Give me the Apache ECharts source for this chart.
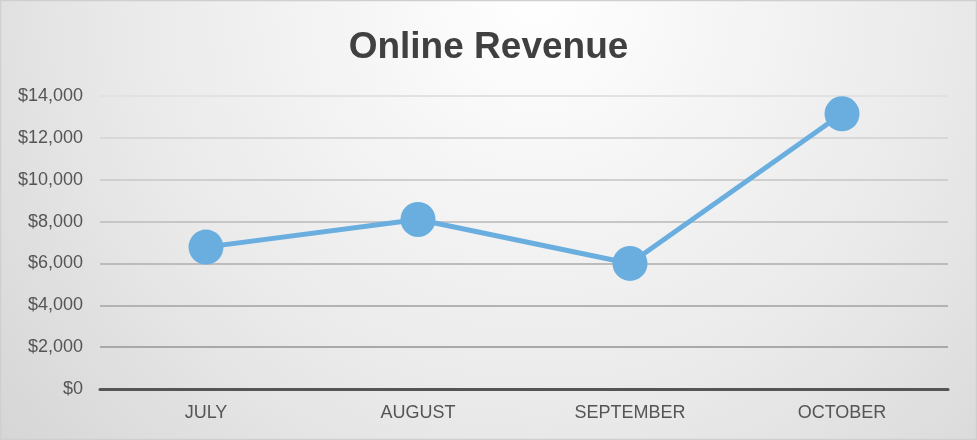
<!DOCTYPE html>
<html>
<head>
<meta charset="utf-8">
<script src="https://cdn.jsdelivr.net/npm/echarts@6/dist/echarts.min.js"></script>
<style>
html, body { margin: 0; padding: 0; }
#chart { width: 977px; height: 440px; }
</style>
</head>
<body>
<div id="chart"></div>
<script>
var months = ["JULY", "AUGUST", "SEPTEMBER", "OCTOBER"];
var revenue = [6780, 8100, 6000, 13150];
var gridColors = ["#d8d8d8", "#a9a9a9", "#b3b3b3", "#bcbcbc", "#c6c6c6", "#cfcfcf", "#d8d8d8", "#e2e2e2"];

var myChart = echarts.init(document.getElementById('chart'));
var option = {
	backgroundColor: {
		type: 'radial', x: 0.55, y: 0.0, r: 1.6,
		colorStops: [
			{ offset: 0, color: '#ffffff' },
			{ offset: 0.6, color: '#e9e9e9' },
			{ offset: 1, color: '#d5d5d5' }
		]
	},
	graphic: [{
		type: 'rect',
		shape: { x: 0.5, y: 0.5, width: 976, height: 439 },
		style: { fill: 'none', stroke: '#cfcfcf', lineWidth: 1.5 },
		silent: true
	}],
	title: {
		text: 'Online Revenue',
		left: 'center',
		top: 24,
		textStyle: { fontFamily: 'Liberation Sans', fontSize: 37, fontWeight: 'bold', color: '#404040' }
	},
	grid: { left: 100, right: 29, top: 96, bottom: 51 },
	xAxis: {
		type: 'category',
		data: months,
		boundaryGap: true,
		axisLine: { lineStyle: { color: '#555555', width: 3 } },
		axisTick: { show: false },
		axisLabel: { fontFamily: 'Liberation Sans', fontSize: 18, color: '#555555', margin: 15 }
	},
	yAxis: {
		type: 'value',
		min: 0, max: 14000, interval: 2000,
		axisLine: { show: false },
		axisTick: { show: false },
		axisLabel: {
			fontFamily: 'Liberation Sans', fontSize: 18, color: '#555555', margin: 17,
			formatter: function(v){ return '$' + v.toLocaleString('en-US'); }
		},
		splitLine: { lineStyle: { color: gridColors, width: 2 } }
	},
	series: [{
		type: 'line',
		data: revenue,
		symbol: 'circle',
		symbolSize: 35,
		itemStyle: { color: '#6aaee0' },
		lineStyle: { color: '#6aaee0', width: 5 },
		animation: false
	}]
};
myChart.setOption(option);
</script>
</body>
</html>
